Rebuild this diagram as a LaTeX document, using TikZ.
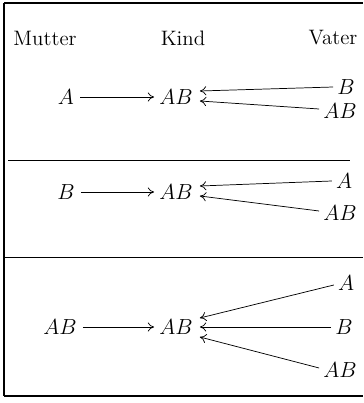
\documentclass[tikz,border=0pt]{standalone}
\usetikzlibrary{arrows.meta,calc}
\begin{document}
\begin{tikzpicture}[x=0.55pt,y=-0.55pt,
  lab/.style={inner sep=1pt,font=\fontsize{11.5}{14}\selectfont},
  arr/.style={line width=0.4pt,-{To[length=3.5pt,width=5pt]}},
  rule/.style={line width=0.4pt}]
\useasboundingbox (0,0) rectangle (364,403);
% frame
\coordinate (tl) at (4,3);
\coordinate (tr) at (363,3);
\coordinate (bl) at (4,396);
\coordinate (br) at (363,396);
\draw[line width=0.8pt] (tl) -- (tr);
\draw[line width=1.3pt] (tl) -- (bl);
\draw[line width=0.6pt] (bl) -- (br);
\coordinate (d1a) at (8,160);
\coordinate (d1b) at (350,160);
\draw[rule] (d1a) -- (d1b);
\coordinate (d2a) at (4,257);
\coordinate (d2b) at (363,257);
\draw[rule] (d2a) -- (d2b);
% headers
\node[lab] (hm) at (45,38) {Mutter};
\node[lab] (hk) at (183,38) {Kind};
\node[lab] (hv) at (333,38) {Vater};
% row 1
\node[lab] (m1) at (66,97) {$A$};
\node[lab] (k1) at (176,97) {$AB$};
\node[lab] (v1a) at (346,87) {$B$};
\node[lab] (v1b) at (340,111) {$AB$};
\draw[arr] ($(m1.east)+(4,0)$) -- ($(k1.west)+(-3,0)$);
\draw[arr] ($(v1a.west)+(-2,0)$) -- ($(k1.east)+(5,-6)$);
\draw[arr] ($(v1b.west)+(-2,-2)$) -- ($(k1.east)+(5,4)$);
% row 2
\node[lab] (m2) at (66,192) {$B$};
\node[lab] (k2) at (176,192) {$AB$};
\node[lab] (v2a) at (344,181) {$A$};
\node[lab] (v2b) at (340,213) {$AB$};
\draw[arr] ($(m2.east)+(4,0)$) -- ($(k2.west)+(-3,0)$);
\draw[arr] ($(v2a.west)+(-2,0)$) -- ($(k2.east)+(5,-6)$);
\draw[arr] ($(v2b.west)+(-2,-2)$) -- ($(k2.east)+(5,4)$);
% row 3
\node[lab] (m3) at (60,327) {$AB$};
\node[lab] (k3) at (176,327) {$AB$};
\node[lab] (v3a) at (346,283) {$A$};
\node[lab] (v3b) at (344,327) {$B$};
\node[lab] (v3c) at (340,370) {$AB$};
\draw[arr] ($(m3.east)+(4,0)$) -- ($(k3.west)+(-3,0)$);
\draw[arr] ($(v3a.west)+(-2,2)$) -- ($(k3.east)+(5,-9)$);
\draw[arr] ($(v3b.west)+(-2,0)$) -- ($(k3.east)+(5,0)$);
\draw[arr] ($(v3c.west)+(-2,-2)$) -- ($(k3.east)+(5,10)$);
\end{tikzpicture}
\end{document}
